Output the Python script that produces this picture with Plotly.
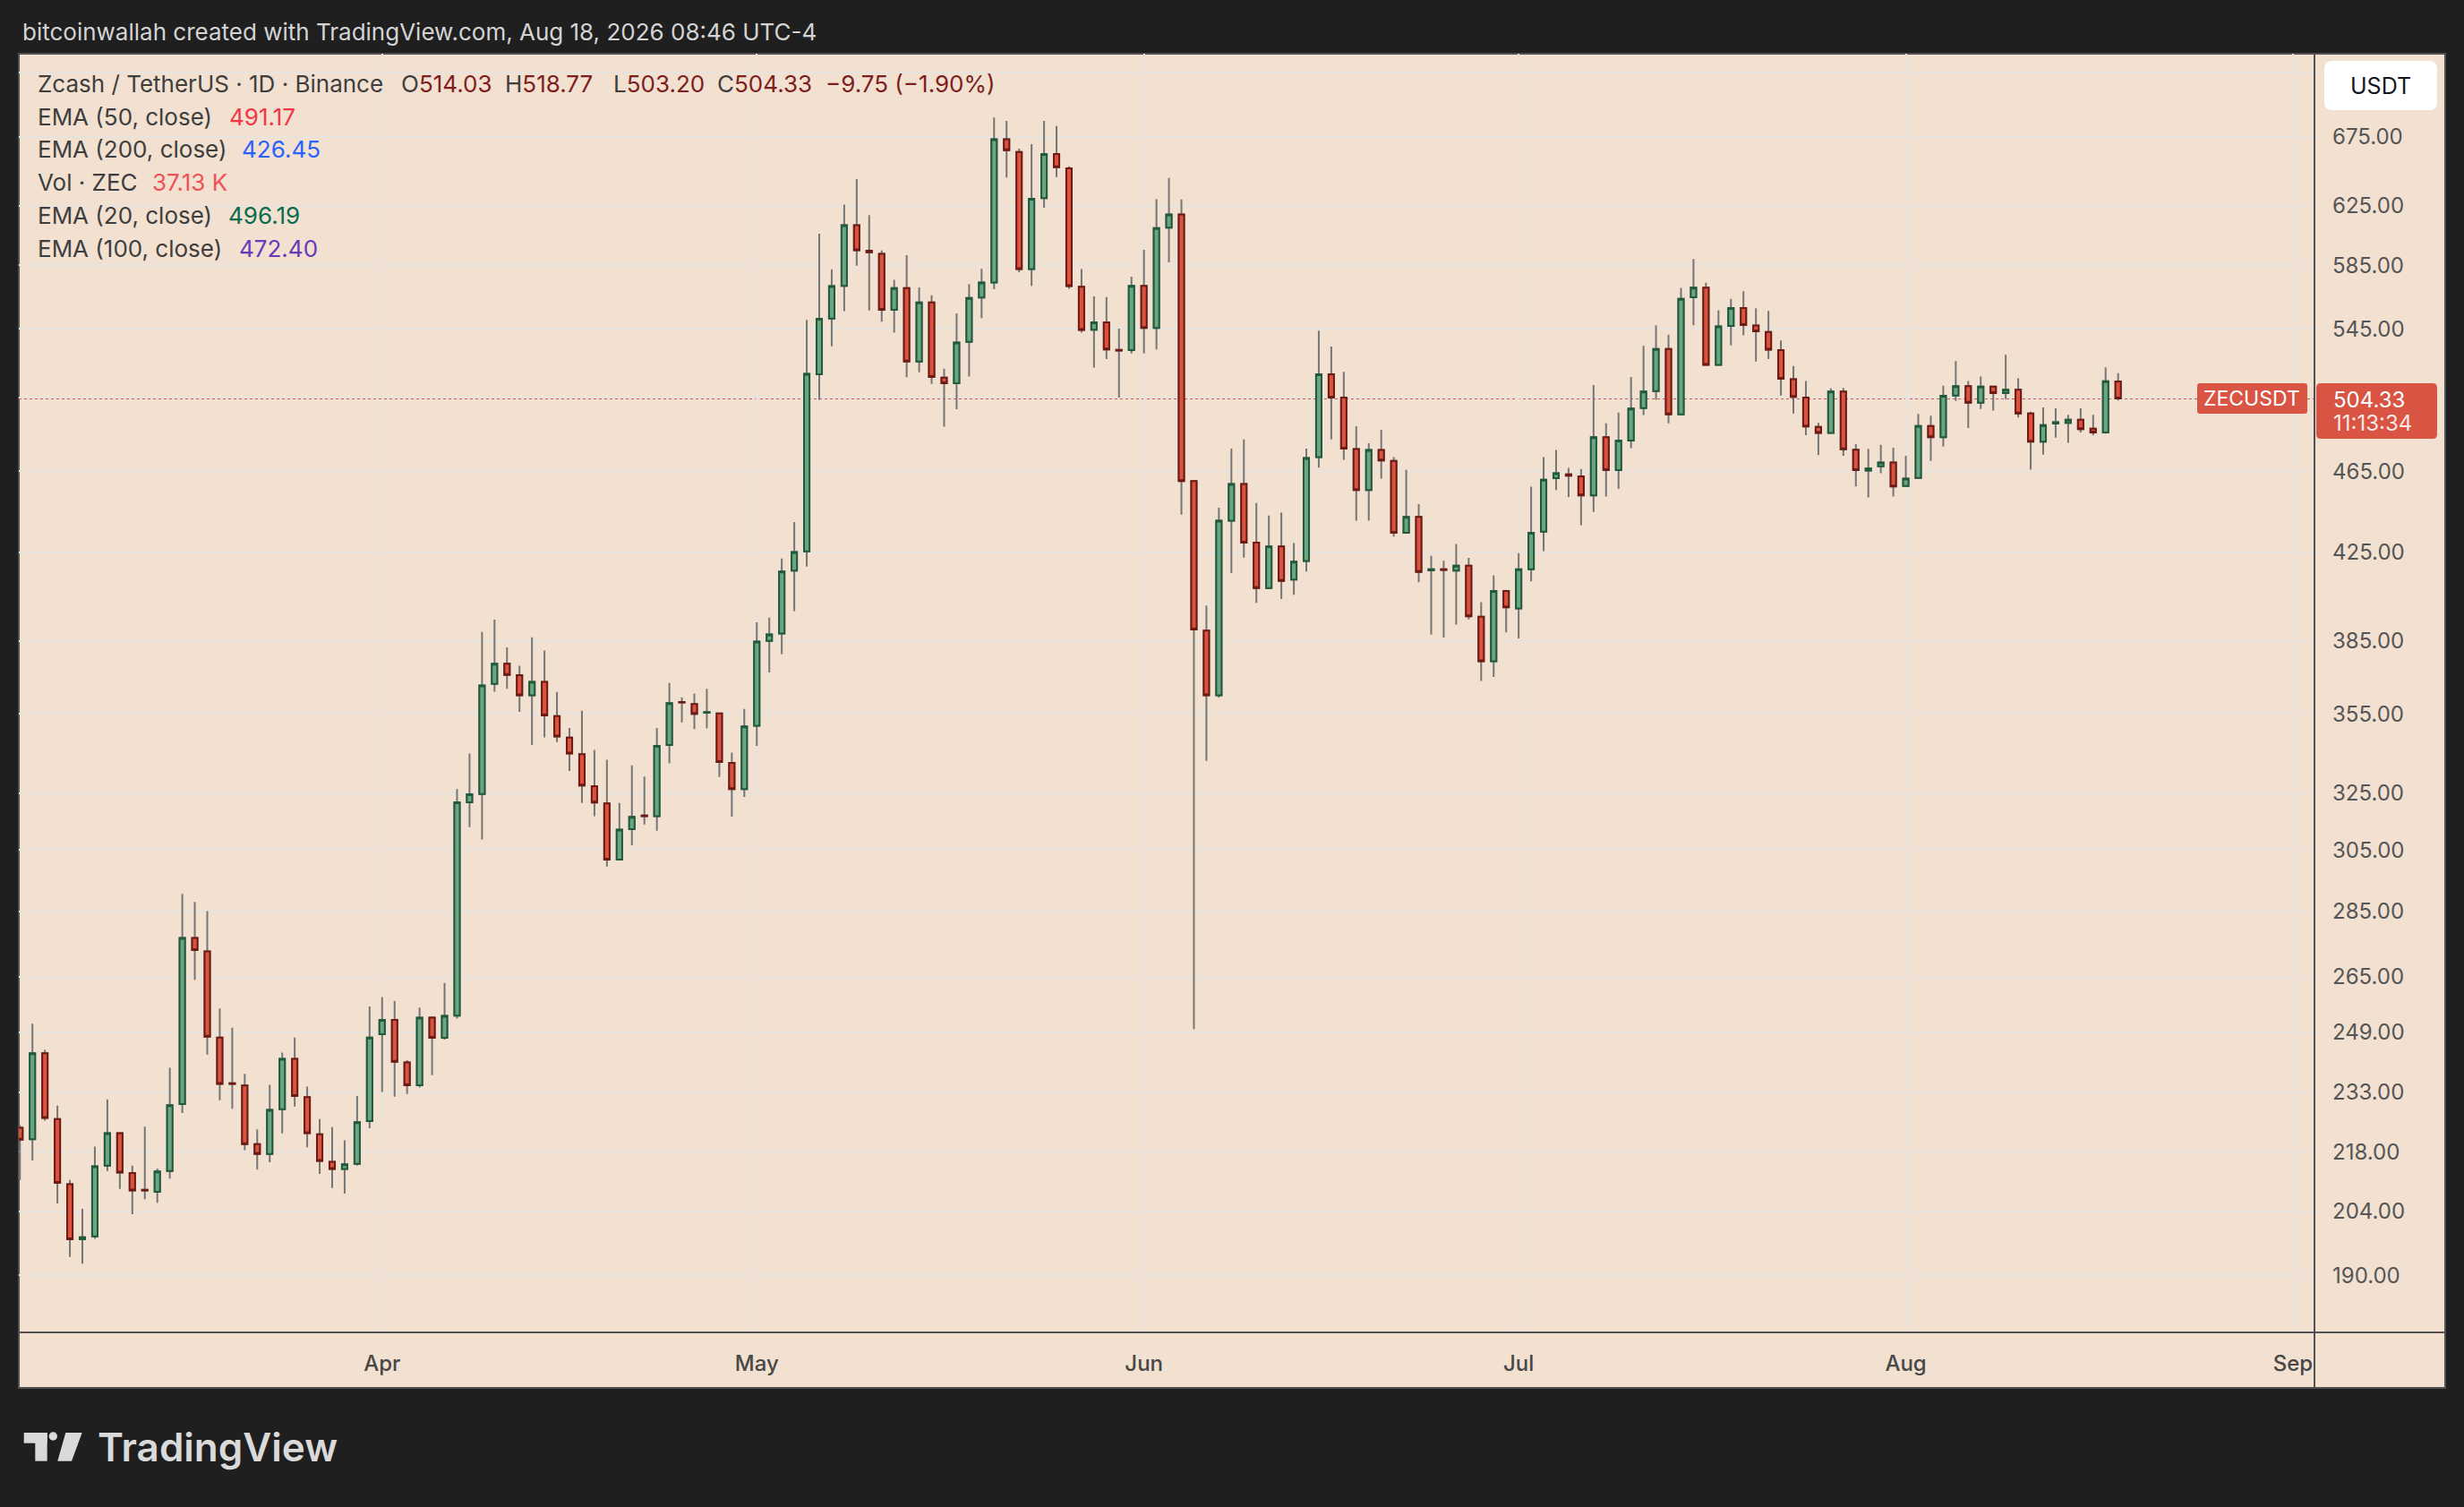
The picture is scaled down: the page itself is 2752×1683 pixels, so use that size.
import numpy as np
import pandas as pd
import plotly.graph_objects as go

# ZEC/USDT daily candles, 3 Mar - 18 Aug 2026
open_prices = [
    # Mar
    223.9, 221.1, 243.3, 226.1, 210.3, 197.8, 198.4, 214.7, 222.6, 212.9,
    209.0, 208.5, 213.4, 229.9, 276.6, 272.5, 247.6, 235.3, 234.7, 219.9,
    217.5, 228.6, 241.8, 231.7, 222.3, 215.6, 213.9, 215.1, 225.6,
    # Apr
    248.5, 252.5, 240.8, 234.8, 253.1, 247.5, 253.7, 321.7, 324.7, 367.0,
    375.4, 370.6, 362.4, 367.9, 354.1, 345.7, 339.4, 327.5, 321.3, 301.8,
    312.2, 317.0, 316.8, 342.9, 359.7, 358.9, 355.4, 355.2, 336.1, 326.5,
    # May
    350.3, 385.0, 388.2, 416.4, 425.4, 518.1, 551.3, 571.7, 611.7, 594.5,
    592.4, 556.7, 570.3, 525.5, 561.3, 516.2, 513.0, 537.2, 564.3, 573.8,
    673.0, 663.6, 582.5, 630.3, 662.1, 651.6, 571.1, 544.5, 548.9, 532.4, 532.2,
    # Jun
    571.7, 545.5, 609.9, 619.0, 460.0, 389.5, 362.4, 440.2, 458.5, 429.6,
    408.4, 427.7, 412.2, 420.9, 472.4, 518.1, 504.8, 476.7, 455.5, 476.2,
    470.5, 434.3, 442.0, 416.5, 417.0, 416.4, 418.7, 395.5, 376.4, 407.0,
    # Jul
    399.2, 417.0, 434.8, 461.5, 463.5, 462.4, 452.8, 483.1, 465.7, 481.3,
    499.0, 508.5, 532.9, 495.5, 564.5, 570.5, 523.6, 546.7, 557.8, 547.0,
    543.1, 532.2, 515.2, 504.9, 488.6, 485.4, 508.2, 476.4, 465.5, 467.6, 469.6,
    # Aug
    457.5, 461.6, 489.1, 483.0, 506.0, 511.3, 502.0, 511.0, 507.4, 509.2,
    496.0, 480.6, 490.5, 490.8, 492.5, 487.6, 485.6, 514.03,
]
high_prices = [
    224.6, 251.4, 244.2, 229.5, 211.3, 204.6, 219.3, 231.1, 222.8, 214.7,
    224.2, 214.0, 239.4, 290.5, 287.9, 285.0, 255.7, 250.3, 237.8, 223.5,
    234.9, 243.5, 247.6, 234.4, 226.1, 224.1, 220.8, 232.0, 256.3,
    259.0, 257.9, 241.4, 256.0, 253.5, 263.1, 326.5, 339.7, 388.9, 394.3,
    382.3, 374.5, 386.6, 380.9, 363.8, 349.5, 356.2, 341.0, 337.3, 321.5,
    335.2, 331.1, 349.5, 367.4, 361.6, 363.1, 365.0, 355.5, 340.0, 356.9,
    393.1, 395.1, 422.0, 439.5, 550.5, 605.9, 582.3, 625.9, 643.8, 618.6,
    594.6, 575.6, 591.5, 570.7, 565.7, 521.3, 554.5, 572.8, 582.6, 689.6,
    687.0, 666.1, 669.4, 687.0, 683.0, 653.0, 582.5, 565.0, 564.6, 545.1, 577.6,
    595.1, 629.6, 644.6, 629.4, 460.5, 400.5, 446.6, 477.0, 481.9, 448.9,
    442.7, 444.1, 429.3, 477.0, 543.9, 534.3, 519.5, 489.0, 479.8, 487.0,
    472.5, 465.8, 448.4, 423.3, 421.0, 428.9, 422.3, 402.0, 414.2, 407.5,
    424.6, 457.2, 472.4, 476.2, 466.8, 466.2, 511.9, 490.6, 496.5, 516.5,
    534.8, 547.2, 541.4, 570.4, 589.1, 573.7, 556.4, 563.5, 568.3, 557.6,
    555.9, 537.9, 522.9, 514.3, 490.8, 510.0, 510.3, 479.3, 476.8, 479.0, 477.4,
    473.2, 495.7, 494.7, 511.6, 525.8, 514.3, 516.8, 511.6, 529.5, 515.8,
    497.0, 499.3, 498.8, 495.2, 498.8, 495.2, 522.1, 518.77,
]
low_prices = [
    211.3, 215.9, 225.7, 205.8, 193.9, 192.5, 197.9, 213.4, 209.2, 203.4,
    206.8, 206.0, 211.6, 227.6, 264.0, 242.9, 230.9, 228.7, 218.4, 213.7,
    215.5, 222.5, 229.3, 219.1, 212.7, 209.4, 208.1, 214.7, 223.8,
    233.0, 231.8, 232.5, 234.2, 237.4, 247.0, 252.9, 312.9, 308.7, 363.9,
    365.0, 355.8, 342.9, 345.8, 344.0, 333.1, 321.5, 316.8, 299.5, 301.5,
    306.7, 313.9, 311.7, 336.0, 351.6, 349.0, 349.3, 330.9, 316.6, 323.6,
    342.6, 371.7, 379.4, 398.0, 418.2, 503.6, 534.5, 555.8, 584.6, 556.3,
    549.3, 542.7, 516.4, 519.3, 512.6, 488.7, 498.3, 516.8, 551.6, 569.5,
    645.0, 580.5, 571.7, 623.7, 645.3, 569.9, 542.7, 522.0, 526.9, 504.8, 530.3,
    530.3, 532.6, 586.8, 443.1, 249.9, 336.9, 361.5, 415.2, 422.4, 401.7,
    408.0, 403.4, 405.3, 416.0, 466.9, 481.9, 471.0, 440.2, 440.2, 461.3,
    432.4, 434.0, 411.0, 387.7, 386.5, 392.1, 394.4, 368.2, 369.9, 388.7,
    386.1, 411.4, 425.5, 455.5, 452.0, 438.0, 444.5, 452.2, 456.0, 477.2,
    495.1, 503.6, 490.6, 495.0, 547.2, 523.0, 523.0, 535.0, 541.0, 525.5,
    527.0, 506.0, 496.0, 484.1, 473.5, 485.0, 473.2, 457.3, 451.7, 464.0, 452.2,
    457.0, 461.5, 470.5, 478.0, 503.0, 488.0, 498.5, 497.6, 504.0, 493.8,
    465.9, 473.8, 482.8, 480.0, 485.6, 484.0, 485.0, 503.20,
]
close_prices = [
    221.0, 243.3, 226.4, 210.6, 197.8, 198.2, 214.5, 222.6, 213.0, 208.8,
    208.8, 213.3, 229.6, 276.6, 272.9, 247.8, 235.1, 235.1, 219.9, 217.5,
    228.4, 241.8, 232.0, 222.6, 215.8, 213.9, 215.0, 225.3, 247.6,
    252.5, 241.0, 234.8, 253.1, 247.5, 253.6, 321.7, 324.6, 366.4, 375.4,
    370.7, 362.4, 367.9, 354.4, 346.2, 339.7, 327.8, 321.6, 301.8, 312.1,
    316.5, 316.8, 342.6, 359.3, 359.5, 355.0, 355.7, 336.5, 326.5, 350.1,
    384.7, 387.8, 416.0, 425.1, 518.3, 551.1, 571.5, 611.7, 594.8, 593.5,
    556.7, 570.3, 525.5, 561.3, 516.6, 513.0, 536.8, 564.1, 573.9, 673.0,
    664.9, 582.5, 629.9, 662.1, 652.4, 571.5, 544.3, 548.9, 532.6, 532.0, 571.7,
    545.5, 609.7, 619.0, 460.0, 390.0, 362.4, 440.2, 458.5, 429.6, 408.4,
    427.7, 411.6, 420.6, 472.0, 518.1, 504.8, 477.0, 455.5, 476.2, 470.7,
    434.3, 442.0, 415.8, 417.0, 416.7, 418.7, 395.7, 376.4, 407.0, 399.7,
    417.0, 434.3, 460.7, 464.0, 462.8, 452.8, 483.1, 465.7, 481.2, 498.7,
    508.2, 532.9, 495.5, 563.5, 570.5, 523.6, 546.5, 557.8, 547.3, 543.5,
    532.5, 515.5, 505.2, 488.9, 485.4, 508.2, 476.6, 465.7, 466.5, 469.6, 457.3,
    461.3, 489.1, 483.0, 505.8, 511.3, 502.0, 511.0, 507.4, 509.2, 496.0,
    480.6, 489.6, 491.2, 492.5, 487.4, 485.6, 514.08, 504.33,
]
dates = pd.date_range("2026-03-03", periods=len(close_prices), freq="D")

month_ticks = ["2026-04-01", "2026-05-01", "2026-06-01", "2026-07-01", "2026-08-01", "2026-09-01"]
month_labels = ["Apr", "May", "Jun", "Jul", "Aug", "Sep"]
price_ticks = [190, 204, 218, 233, 249, 265, 285, 305, 325, 355, 385,
               425, 465, 505, 545, 585, 625, 675, 725]
# 725 sits under the USDT button and 505 under the last-price tag
hidden_ticks = [505, 725]

ind_labels = ["EMA (50, close)", "EMA (200, close)", "Vol · ZEC", "EMA (20, close)", "EMA (100, close)"]
ind_values = ["491.17", "426.45", "37.13 K", "496.19", "472.40"]
countdown = "11:13:34"

# ---- look ----
W, H = 2752, 1683
PL, PR, PT, PB = 21, 2585, 60, 1488      # plot area in px
PANEL_R, PANEL_B = 2731, 1550
FONT = "Inter"
BG = "#F2E0D0"
GRID = "#E9E3DE"
WICK = "#767676"
UP_FILL, UP_LINE = "#6BA583", "#1F5A3B"
DN_FILL, DN_LINE = "#D9533F", "#6E1A13"
TAG_RED = "#DA5443"
y_lo, y_hi = np.log10(178.3), np.log10(740.3)


def px_x(x):
    return (x - PL) / (PR - PL)


def px_y(y):
    return (PB - y) / (PB - PT)


def rounded_rect(x0, y0, x1, y1, r):
    def P(x, y):
        return f"{px_x(x):.5f},{px_y(y):.5f}"
    return (f"M {P(x0 + r, y0)} L {P(x1 - r, y0)} Q {P(x1, y0)} {P(x1, y0 + r)} "
            f"L {P(x1, y1 - r)} Q {P(x1, y1)} {P(x1 - r, y1)} L {P(x0 + r, y1)} "
            f"Q {P(x0, y1)} {P(x0, y1 - r)} L {P(x0, y0 + r)} Q {P(x0, y0)} {P(x0 + r, y0)} Z")


fig = go.Figure()

# wicks (full range) underneath
fig.add_trace(go.Candlestick(
    x=dates, open=open_prices, high=high_prices, low=low_prices, close=close_prices,
    increasing=dict(line=dict(color=WICK, width=2), fillcolor=WICK),
    decreasing=dict(line=dict(color=WICK, width=2), fillcolor=WICK),
    hoverinfo="skip", showlegend=False,
))
# bodies on top
body_top = np.maximum(open_prices, close_prices)
body_bot = np.minimum(open_prices, close_prices)
fig.add_trace(go.Candlestick(
    x=dates, open=open_prices, high=body_top, low=body_bot, close=close_prices,
    increasing=dict(line=dict(color=UP_LINE, width=2), fillcolor=UP_FILL),
    decreasing=dict(line=dict(color=DN_LINE, width=2), fillcolor=DN_FILL),
    showlegend=False,
))

fig.update_layout(
    width=W, height=H,
    margin=dict(l=PL, r=W - PR, t=PT, b=H - PB),
    paper_bgcolor="#1F1F1F", plot_bgcolor=BG,
    boxgap=0.38, showlegend=False,
    font=dict(family=FONT),
    xaxis=dict(
        type="date", range=["2026-03-02 21:50", "2026-09-02 17:20"],
        tickvals=month_ticks, ticktext=month_labels,
        showgrid=True, gridcolor=GRID, gridwidth=2,
        ticks="", showline=False, zeroline=False,
        tickfont=dict(size=24, color="#474747", family=FONT, weight=500),
        ticklabelstandoff=18, rangeslider=dict(visible=False),
    ),
    yaxis=dict(
        type="log", side="right", range=[y_lo, y_hi],
        tickvals=price_ticks,
        ticktext=["" if v in hidden_ticks else f"{v:.2f}" for v in price_ticks],
        showgrid=True, gridcolor=GRID, gridwidth=2,
        ticks="", showline=False, zeroline=False,
        tickfont=dict(size=24, color="#555555", family=FONT),
        ticklabelstandoff=19,
    ),
)

last = close_prices[-1]
last_y = (np.log10(last) - y_lo) / (y_hi - y_lo)

shapes = [
    # panel behind axes
    dict(type="rect", xref="paper", yref="paper", x0=0, x1=px_x(PANEL_R), y0=px_y(PANEL_B), y1=1,
         fillcolor=BG, line=dict(color="#505050", width=2), layer="below"),
    # axis separators
    dict(type="line", xref="paper", yref="paper", x0=1, x1=1, y0=px_y(PANEL_B), y1=1,
         line=dict(color="#505050", width=2)),
    dict(type="line", xref="paper", yref="paper", x0=0, x1=px_x(PANEL_R), y0=0, y1=0,
         line=dict(color="#505050", width=2)),
    # last price dotted line
    dict(type="line", xref="paper", yref="paper", x0=0, x1=1, y0=last_y, y1=last_y,
         line=dict(color=TAG_RED, width=2, dash="dot"), layer="below"),
    # USDT button
    dict(type="path", xref="paper", yref="paper", path=rounded_rect(2596, 68, 2722, 123, 9),
         fillcolor="white", line=dict(width=0)),
    # price tag + symbol tag
    dict(type="path", xref="paper", yref="paper", path=rounded_rect(2587, 428, 2722, 490, 5),
         fillcolor=TAG_RED, line=dict(width=0)),
    dict(type="path", xref="paper", yref="paper", path=rounded_rect(2454, 428, 2577, 462, 3),
         fillcolor=TAG_RED, line=dict(width=0)),
    # TradingView logo mark
    dict(type="rect", xref="paper", yref="paper", x0=px_x(26.7), x1=px_x(52.7), y0=px_y(1611.7), y1=px_y(1600),
         fillcolor="#DADADA", line=dict(width=0)),
    dict(type="rect", xref="paper", yref="paper", x0=px_x(39.3), x1=px_x(52.7), y0=px_y(1631.7), y1=px_y(1600),
         fillcolor="#DADADA", line=dict(width=0)),
    dict(type="circle", xref="paper", yref="paper", x0=px_x(54.6), x1=px_x(64.0), y0=px_y(1608.7), y1=px_y(1599.3),
         fillcolor="#DADADA", line=dict(width=0)),
    dict(type="path", xref="paper", yref="paper",
         path=f"M {px_x(73.3)},{px_y(1600)} L {px_x(91.7)},{px_y(1600)} L {px_x(80)},{px_y(1631.7)} "
              f"L {px_x(64.3)},{px_y(1631.7)} Z",
         fillcolor="#DADADA", line=dict(width=0)),
]
fig.update_layout(shapes=shapes)


def add_text(x, y, text, size, color, xanchor="left", weight=None):
    fig.add_annotation(x=px_x(x), y=px_y(y), xref="paper", yref="paper", text=text,
                       showarrow=False, xanchor=xanchor, yanchor="middle",
                       font=dict(family=FONT, size=size, color=color, weight=weight))


add_text(23, 35, "bitcoinwallah created with TradingView.com, Aug 18, 2026 08:46 UTC-4", 26, "#D4D4D4")
add_text(107, 1616, "TradingView", 44, "#DADADA", weight=600)

LBL = "#3E3E3E"
VAL = "#7E1D1D"
chg = close_prices[-1] - close_prices[-2]
pct = chg / close_prices[-2] * 100
add_text(40, 93, "Zcash / TetherUS · 1D · Binance", 26, LBL)
ohlc = [("O", open_prices[-1], 446), ("H", high_prices[-1], 562),
        ("L", low_prices[-1], 683), ("C", close_prices[-1], 799)]
for letter, val, xp in ohlc:
    add_text(xp, 93, f"<span style='color:{LBL}'>{letter}</span>{val:.2f}", 26, VAL)
add_text(920, 93, f"{chg:.2f} ({pct:.2f}%)".replace("-", "−"), 26, VAL)

ind_colors = ["#F23645", "#2962FF", "#F0525A", "#0B6B4E", "#673AB7"]
row_y = [130, 167, 204, 240, 277]
val_x = [254, 268, 168, 253, 265]
for lab, val, col, yy, xv in zip(ind_labels, ind_values, ind_colors, row_y, val_x):
    add_text(40, yy, lab, 26, LBL)
    add_text(xv, yy, val, 26, col)

add_text(2659, 96, "USDT", 25, "#131722", xanchor="center")
add_text(2604, 446, f"{last:.2f}", 24, "white")
add_text(2604, 473, countdown, 24, "rgba(255,255,255,0.88)")
add_text(2515, 445, "ZECUSDT", 23, "white", xanchor="center")

fig.write_html("out.html", config={"displayModeBar": False},
               post_script="document.body.style.margin='0';document.body.style.overflow='hidden';")
